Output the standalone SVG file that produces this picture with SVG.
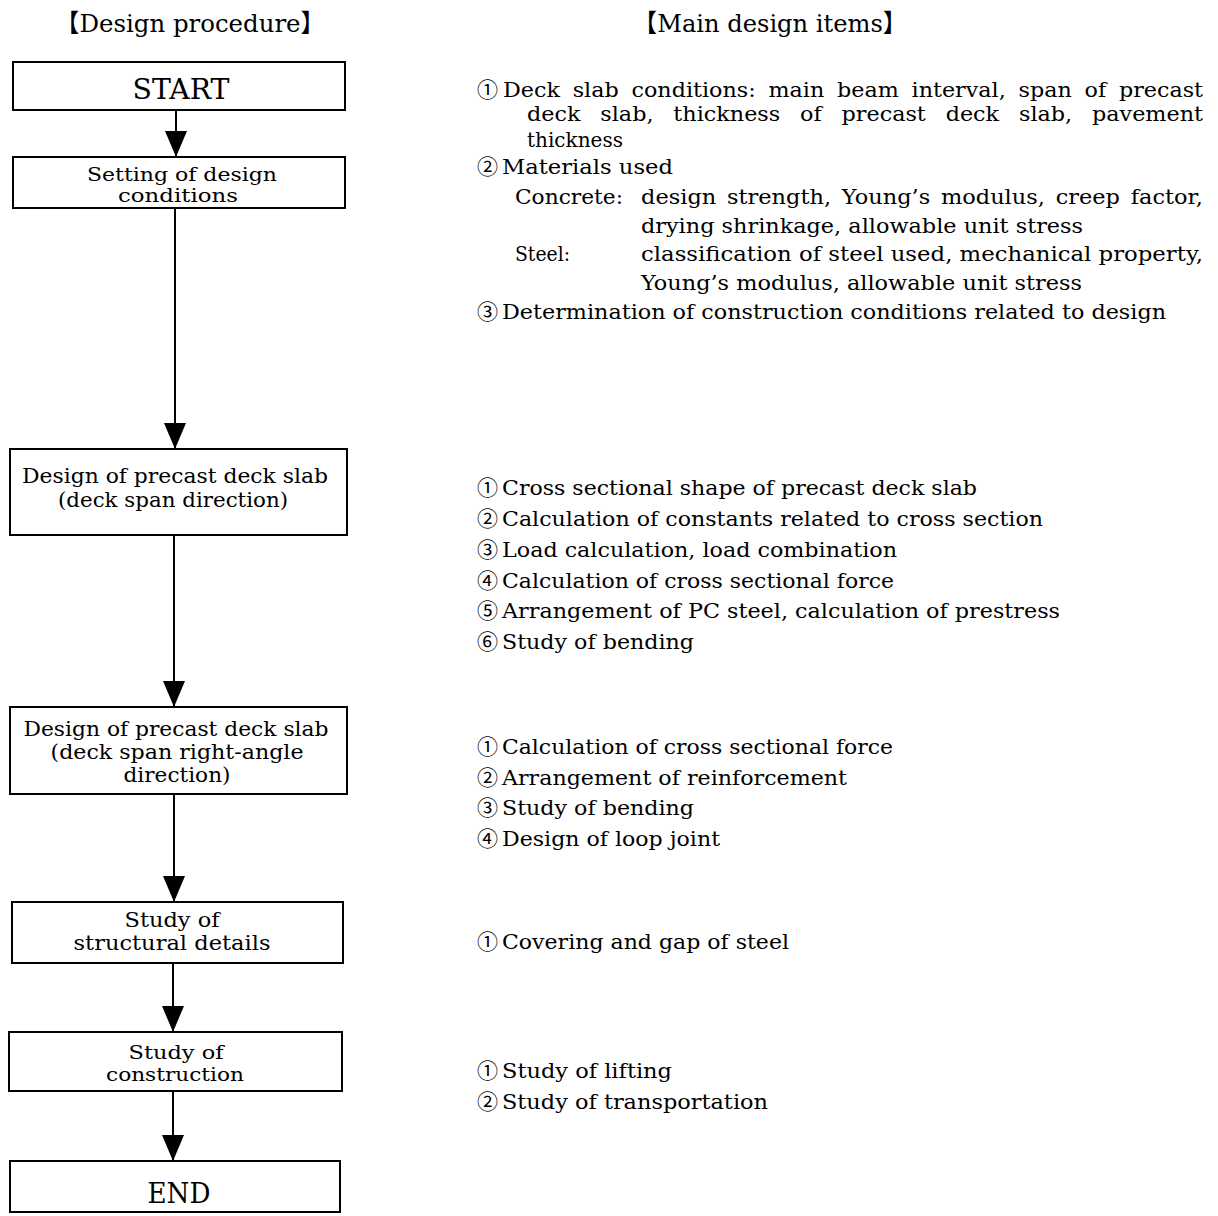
<svg xmlns="http://www.w3.org/2000/svg" width="1218" height="1216" viewBox="0 0 1218 1216">
  <style>
    .t { font-family: "DejaVu Serif", "Noto Sans CJK JP", serif; font-size: 21px; fill: #000; }
    .h { font-family: "DejaVu Serif", "Noto Sans CJK JP", serif; font-size: 25px; fill: #000; }
    .n { font-family: "Noto Sans CJK JP", "DejaVu Sans", sans-serif; font-size: 21px; fill: #000; }
    .b { fill: #fff; stroke: #000; stroke-width: 2; }
    .bl { font-family: "DejaVu Serif", serif; font-size: 21px; fill: #000; text-anchor: middle; }
    .tight { font-size: 19px; }
    .big { font-size: 27px; }
    .c { stroke: #000; stroke-width: 2; fill: none; }
  </style>
  <defs>
    <marker id="ah" markerUnits="userSpaceOnUse" markerWidth="26" markerHeight="22" refX="26" refY="11" orient="auto">
      <path d="M0,0 L26,11 L0,22 Z" fill="#000"/>
    </marker>
  </defs>
  <rect width="1218" height="1216" fill="#fff"/>

  <!-- column headings -->
  <text class="h" x="55" y="32" textLength="270" lengthAdjust="spacingAndGlyphs">【Design procedure】</text>
  <text class="h" x="633" y="32" textLength="274" lengthAdjust="spacingAndGlyphs">【Main design items】</text>

  <!-- flow connectors -->
  <g id="connectors">
    <line class="c" x1="176" y1="110" x2="176" y2="157" marker-end="url(#ah)"/>
    <line class="c" x1="175" y1="208" x2="175" y2="449" marker-end="url(#ah)"/>
    <line class="c" x1="174" y1="535" x2="174" y2="707" marker-end="url(#ah)"/>
    <line class="c" x1="174" y1="794" x2="174" y2="902" marker-end="url(#ah)"/>
    <line class="c" x1="173" y1="963" x2="173" y2="1032" marker-end="url(#ah)"/>
    <line class="c" x1="173" y1="1091" x2="173" y2="1161" marker-end="url(#ah)"/>
  </g>

  <!-- procedure steps -->
  <g id="start">
    <rect class="b" x="13" y="62" width="332" height="48"/>
    <text class="bl big" x="181" y="99" textLength="97" lengthAdjust="spacingAndGlyphs">START</text>
  </g>
  <g id="setting">
    <rect class="b" x="13" y="157" width="332" height="51"/>
    <text class="bl tight" x="182" y="181" textLength="190" lengthAdjust="spacingAndGlyphs">Setting of design</text>
    <text class="bl tight" x="178" y="202" textLength="120" lengthAdjust="spacingAndGlyphs">conditions</text>
  </g>
  <g id="slab-span">
    <rect class="b" x="10" y="449" width="337" height="86"/>
    <text class="bl" x="175" y="483" textLength="306" lengthAdjust="spacingAndGlyphs">Design of precast deck slab</text>
    <text class="bl" x="173" y="507" textLength="230" lengthAdjust="spacingAndGlyphs">(deck span direction)</text>
  </g>
  <g id="slab-right-angle">
    <rect class="b" x="10" y="707" width="337" height="87"/>
    <text class="bl" x="176" y="736" textLength="305" lengthAdjust="spacingAndGlyphs">Design of precast deck slab</text>
    <text class="bl" x="177" y="759" textLength="253" lengthAdjust="spacingAndGlyphs">(deck span right-angle</text>
    <text class="bl" x="177" y="782" textLength="107" lengthAdjust="spacingAndGlyphs">direction)</text>
  </g>
  <g id="details">
    <rect class="b" x="12" y="902" width="331" height="61"/>
    <text class="bl" x="172" y="927" textLength="95" lengthAdjust="spacingAndGlyphs">Study of</text>
    <text class="bl" x="172" y="950" textLength="197" lengthAdjust="spacingAndGlyphs">structural details</text>
  </g>
  <g id="construction">
    <rect class="b" x="9" y="1032" width="333" height="59"/>
    <text class="bl tight" x="176" y="1059" textLength="95" lengthAdjust="spacingAndGlyphs">Study of</text>
    <text class="bl tight" x="175" y="1081" textLength="138" lengthAdjust="spacingAndGlyphs">construction</text>
  </g>
  <g id="end">
    <rect class="b" x="10" y="1161" width="330" height="51"/>
    <text class="bl big" x="179" y="1203" textLength="63" lengthAdjust="spacingAndGlyphs">END</text>
  </g>

  <!-- design items for each step -->
  <g id="items-setting">
    <text class="n" x="477" y="97">①</text>
    <text class="t" x="503" y="97" word-spacing="5.4" textLength="700" lengthAdjust="spacingAndGlyphs">Deck slab conditions: main beam interval, span of precast</text>
    <text class="t" x="527" y="121" word-spacing="12" textLength="676" lengthAdjust="spacingAndGlyphs">deck slab, thickness of precast deck slab, pavement</text>
    <text class="t" x="527" y="147" textLength="96" lengthAdjust="spacingAndGlyphs">thickness</text>
    <text class="n" x="477" y="174">②</text>
    <text class="t" x="502" y="174" textLength="171" lengthAdjust="spacingAndGlyphs">Materials used</text>
    <text class="t" x="515" y="204" textLength="108" lengthAdjust="spacingAndGlyphs">Concrete:</text>
    <text class="t" x="641" y="204" word-spacing="3.4" textLength="562" lengthAdjust="spacingAndGlyphs">design strength, Young’s modulus, creep factor,</text>
    <text class="t" x="641" y="233" textLength="442" lengthAdjust="spacingAndGlyphs">drying shrinkage, allowable unit stress</text>
    <text class="t" x="515" y="261" textLength="55" lengthAdjust="spacingAndGlyphs">Steel:</text>
    <text class="t" x="641" y="261" textLength="562" lengthAdjust="spacingAndGlyphs">classification of steel used, mechanical property,</text>
    <text class="t" x="641" y="290" textLength="441" lengthAdjust="spacingAndGlyphs">Young’s modulus, allowable unit stress</text>
    <text class="n" x="477" y="319">③</text>
    <text class="t" x="502" y="319" textLength="664" lengthAdjust="spacingAndGlyphs">Determination of construction conditions related to design</text>
  </g>
  <g id="items-slab-span">
    <text class="n" x="477" y="495">①</text>
    <text class="t" x="502" y="495" textLength="475" lengthAdjust="spacingAndGlyphs">Cross sectional shape of precast deck slab</text>
    <text class="n" x="477" y="526">②</text>
    <text class="t" x="502" y="526" textLength="541" lengthAdjust="spacingAndGlyphs">Calculation of constants related to cross section</text>
    <text class="n" x="477" y="557">③</text>
    <text class="t" x="502" y="557" textLength="395" lengthAdjust="spacingAndGlyphs">Load calculation, load combination</text>
    <text class="n" x="477" y="588">④</text>
    <text class="t" x="502" y="588" textLength="392" lengthAdjust="spacingAndGlyphs">Calculation of cross sectional force</text>
    <text class="n" x="477" y="618">⑤</text>
    <text class="t" x="502" y="618" textLength="558" lengthAdjust="spacingAndGlyphs">Arrangement of PC steel, calculation of prestress</text>
    <text class="n" x="477" y="649">⑥</text>
    <text class="t" x="502" y="649" textLength="192" lengthAdjust="spacingAndGlyphs">Study of bending</text>
  </g>
  <g id="items-slab-right-angle">
    <text class="n" x="477" y="754">①</text>
    <text class="t" x="502" y="754" textLength="391" lengthAdjust="spacingAndGlyphs">Calculation of cross sectional force</text>
    <text class="n" x="477" y="785">②</text>
    <text class="t" x="502" y="785" textLength="345" lengthAdjust="spacingAndGlyphs">Arrangement of reinforcement</text>
    <text class="n" x="477" y="815">③</text>
    <text class="t" x="502" y="815" textLength="192" lengthAdjust="spacingAndGlyphs">Study of bending</text>
    <text class="n" x="477" y="846">④</text>
    <text class="t" x="502" y="846" textLength="218" lengthAdjust="spacingAndGlyphs">Design of loop joint</text>
  </g>
  <g id="items-details">
    <text class="n" x="477" y="949">①</text>
    <text class="t" x="502" y="949" textLength="287" lengthAdjust="spacingAndGlyphs">Covering and gap of steel</text>
  </g>
  <g id="items-construction">
    <text class="n" x="477" y="1078">①</text>
    <text class="t" x="502" y="1078" textLength="170" lengthAdjust="spacingAndGlyphs">Study of lifting</text>
    <text class="n" x="477" y="1109">②</text>
    <text class="t" x="502" y="1109" textLength="266" lengthAdjust="spacingAndGlyphs">Study of transportation</text>
  </g>
</svg>
